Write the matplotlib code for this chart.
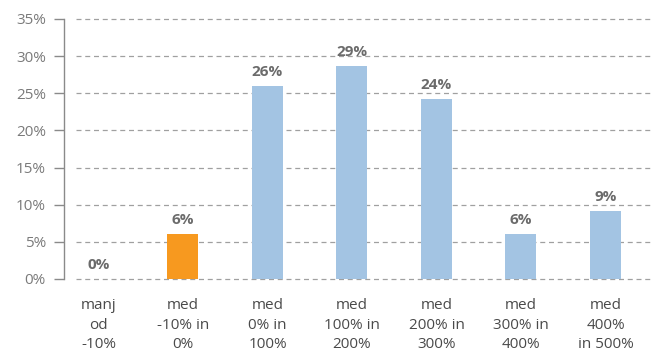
import matplotlib
matplotlib.use("Agg")
import matplotlib.pyplot as plt

categories = ["manj\nod\n-10%", "med\n-10% in\n0%", "med\n0% in\n100%", "med\n100% in\n200%",
              "med\n200% in\n300%", "med\n300% in\n400%", "med\n400%\nin 500%"]
values = [0.0, 6.1, 26.0, 28.7, 24.2, 6.1, 9.1]
labels = ["0%", "6%", "26%", "29%", "24%", "6%", "9%"]
colors = ["#A3C4E3", "#F7991F", "#A3C4E3", "#A3C4E3", "#A3C4E3", "#A3C4E3", "#A3C4E3"]
yticks = [0, 5, 10, 15, 20, 25, 30, 35]

plt.rcParams['font.family'] = ['Open Sans', 'DejaVu Sans']

W, H = 654, 352
fig = plt.figure(figsize=(W/100, H/100), dpi=100)
ax = fig.add_axes([64/W, 1-279/H, (654-64)/W, 260/H])

x = list(range(len(categories)))
ax.bar(x, values, width=0.367, color=colors, zorder=3)
ax.set_ylim(0, 35)
ax.set_xlim(-0.408, 6.574)

for xi in yticks:
    ax.plot([-0.266, 6.574], [xi, xi], linestyle=(0, (4, 3)), color="#a0a0a0", lw=0.9, zorder=1, clip_on=False)

for xi, v, lab in zip(x, values, labels):
    ax.annotate(lab, (xi, v), xytext=(0, 5), textcoords="offset points", ha="center", va="bottom",
                fontsize=11, fontweight="bold", color="#6b6b6b")

ax.set_yticks(yticks)
ax.set_yticklabels([f"{t}%" for t in yticks], fontsize=11, color="#7a7a7a")
ax.set_xticks(x)
ax.set_xticklabels(categories, fontsize=11, color="#4a4a4a", linespacing=1.38)
ax.tick_params(axis="x", length=0, pad=14)
ax.tick_params(axis="y", length=7, color="#8a8a8a", width=1, pad=6)
for s in ["top", "right", "bottom"]:
    ax.spines[s].set_visible(False)
ax.spines["left"].set_color("#8a8a8a")
ax.spines["left"].set_linewidth(1)

fig.savefig("out.png", dpi=100)
